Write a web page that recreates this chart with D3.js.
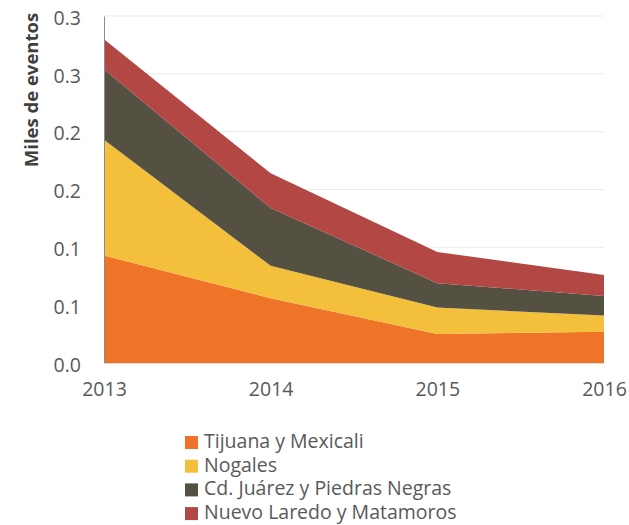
<!DOCTYPE html>
<html>
<head>
<meta charset="utf-8">
<script src="https://cdn.jsdelivr.net/npm/d3@7"></script>
<style>
  body { margin: 0; background: #fff; }
  text { font-family: "Open Sans", sans-serif; }
</style>
</head>
<body>
<div id="chart"></div>
<script>
// Data
var years = ["2013", "2014", "2015", "2016"];
var series = ["Tijuana y Mexicali", "Nogales", "Cd. Juárez y Piedras Negras", "Nuevo Laredo y Matamoros"];
var tijuana = [0.093, 0.056, 0.025, 0.027];
var nogales = [0.100, 0.028, 0.023, 0.014];
var juarez = [0.061, 0.050, 0.021, 0.017];
var laredo = [0.026, 0.030, 0.027, 0.018];
var yTicks = [0, 0.05, 0.10, 0.15, 0.20, 0.25, 0.30];
var yTickLabels = ["0.0", "0.1", "0.1", "0.2", "0.2", "0.3", "0.3"];
var colors = ["#F07427", "#F4C03C", "#545143", "#B34743"];

// Measurement
var w = 629, h = 525;
var padding = [16, 25, 162, 104];  //Top, right, bottom, left

var rows = years.map(function(y, i) {
	return { year: y, s0: tijuana[i], s1: nogales[i], s2: juarez[i], s3: laredo[i] };
});

var svg = d3.select("#chart").append("svg")
	.attr("width", w)
	.attr("height", h);

// Scaling
var xScale = d3.scalePoint()
	.domain(years)
	.range([padding[3], w - padding[1]]);
var yScale = d3.scaleLinear()
	.domain([0, 0.3])
	.range([h - padding[2], padding[0]]);

// Grid
svg.append("g")
	.selectAll("line")
	.data(yTicks.slice(1))
	.enter()
	.append("line")
	.attr("x1", padding[3])
	.attr("x2", w - padding[1])
	.attr("y1", function(d) { return yScale(d); })
	.attr("y2", function(d) { return yScale(d); })
	.attr("stroke", "#EBEBEB")
	.attr("stroke-width", 1);

// Stack
var stack = d3.stack().keys(["s0", "s1", "s2", "s3"]);
var layers = stack(rows);

var area = d3.area()
	.x(function(d) { return xScale(d.data.year); })
	.y0(function(d) { return yScale(d[0]); })
	.y1(function(d) { return yScale(d[1]); });

svg.selectAll(".layer")
	.data(layers)
	.enter()
	.append("path")
	.attr("class", "layer")
	.attr("d", area)
	.attr("fill", function(d, i) { return colors[i]; });

// Axis
var yAxis = d3.axisLeft(yScale)
	.tickValues(yTicks)
	.tickFormat(function(d, i) { return yTickLabels[i]; })
	.tickSize(0)
	.tickPadding(23);

var gy = svg.append("g")
	.attr("transform", "translate(" + padding[3] + ",0)")
	.call(yAxis);
gy.select(".domain").attr("stroke", "#8C8C8C");
gy.selectAll("text")
	.attr("font-family", "Open Sans")
	.attr("font-size", 19.5)
	.attr("dy", "0.42em")
	.attr("fill", "#595959");

var xAxis = d3.axisBottom(xScale)
	.tickSize(0)
	.tickPadding(19);

var gx = svg.append("g")
	.attr("transform", "translate(0," + (h - padding[2]) + ")")
	.call(xAxis);
gx.select(".domain").attr("stroke", "#D9D9D9");
gx.selectAll("text")
	.attr("font-family", "Open Sans")
	.attr("font-size", 19.5)
	.attr("fill", "#595959");

// Y title
svg.append("text")
	.attr("transform", "translate(38," + 90 + ") rotate(-90)")
	.attr("text-anchor", "middle")
	.attr("font-family", "Open Sans")
	.attr("font-weight", "bold")
	.attr("font-size", 18.5)
	.attr("fill", "#404040")
	.text("Miles de eventos");

// Legend
var legend = svg.selectAll(".legend")
	.data(series)
	.enter()
	.append("g")
	.attr("class", "legend")
	.attr("transform", function(d, i) { return "translate(185," + (442 + i * 23.7) + ")"; });

legend.append("rect")
	.attr("x", 0)
	.attr("y", -6)
	.attr("width", 13)
	.attr("height", 13)
	.attr("fill", function(d, i) { return colors[i]; });

legend.append("text")
	.attr("x", 19)
	.attr("y", 0)
	.attr("dy", "0.3em")
	.attr("font-family", "Open Sans")
	.attr("font-size", 19.5)
	.attr("fill", "#595959")
	.text(function(d) { return d; });
</script>
</body>
</html>
